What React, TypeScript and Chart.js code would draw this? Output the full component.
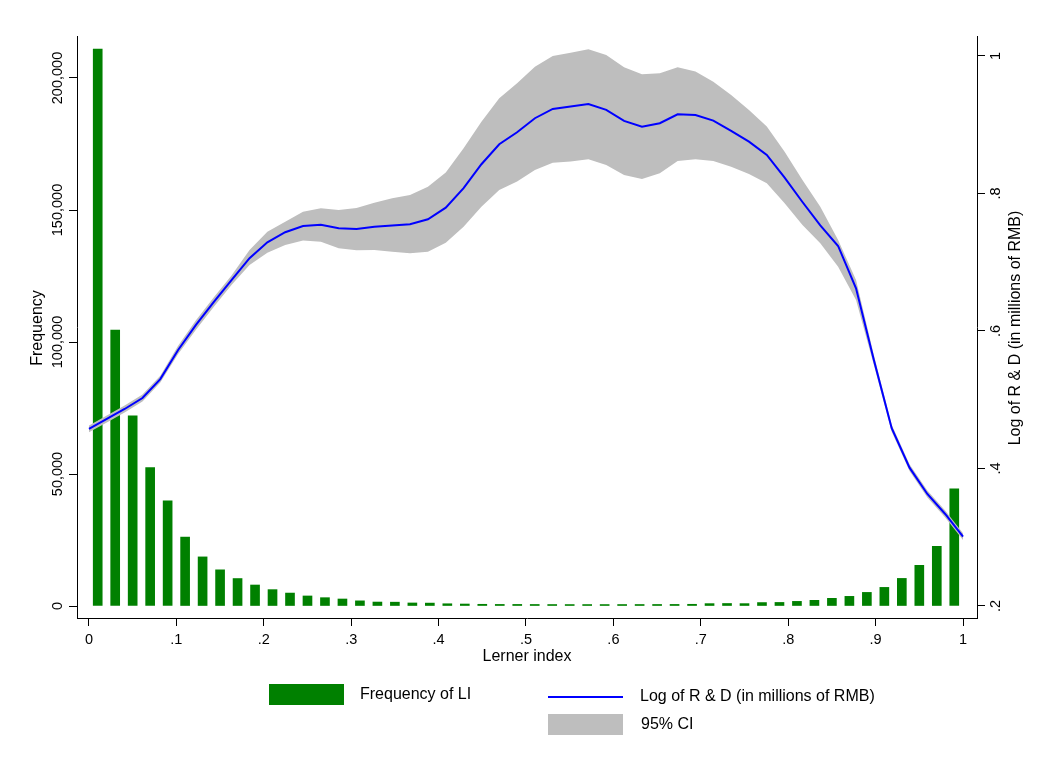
import React, { useEffect, useRef } from "react";
import { Chart, registerables } from "chart.js";

Chart.register(...registerables);

// ---------- data ----------
const binCenters = [
  0.01, 0.03, 0.05, 0.07, 0.09, 0.11, 0.13, 0.15, 0.17, 0.19,
  0.21, 0.23, 0.25, 0.27, 0.29, 0.31, 0.33, 0.35, 0.37, 0.39,
  0.41, 0.43, 0.45, 0.47, 0.49, 0.51, 0.53, 0.55, 0.57, 0.59,
  0.61, 0.63, 0.65, 0.67, 0.69, 0.71, 0.73, 0.75, 0.77, 0.79,
  0.81, 0.83, 0.85, 0.87, 0.89, 0.91, 0.93, 0.95, 0.97, 0.99,
];

const frequency = [
  211000, 104500, 72000, 52400, 39800, 26100, 18600, 13700, 10400, 7950,
  6200, 4900, 3800, 3150, 2650, 1950, 1500, 1450, 1150, 1100,
  850, 750, 650, 600, 600, 580, 560, 550, 550, 550,
  560, 570, 580, 600, 650, 900, 950, 900, 1300, 1350,
  1750, 2150, 2900, 3650, 5150, 7050, 10450, 15400, 22600, 44400,
];

const gridX = [
  0.0, 0.0204, 0.0408, 0.0612, 0.0816, 0.102, 0.1224, 0.1429, 0.1633, 0.1837,
  0.2041, 0.2245, 0.2449, 0.2653, 0.2857, 0.3061, 0.3265, 0.3469, 0.3673, 0.3878,
  0.4082, 0.4286, 0.449, 0.4694, 0.4898, 0.5102, 0.5306, 0.551, 0.5714, 0.5918,
  0.6122, 0.6327, 0.6531, 0.6735, 0.6939, 0.7143, 0.7347, 0.7551, 0.7755, 0.7959,
  0.8163, 0.8367, 0.8571, 0.8776, 0.898, 0.9184, 0.9388, 0.9592, 0.9796, 1.0,
];

const logRD = [
  0.4575, 0.472, 0.4865, 0.5025, 0.53, 0.5724, 0.6087, 0.6422, 0.6742, 0.7058,
  0.729, 0.7436, 0.7527, 0.7546, 0.7494, 0.7484, 0.7517, 0.7535, 0.7552, 0.7625,
  0.7793, 0.8076, 0.8425, 0.8716, 0.889, 0.9094, 0.9229, 0.9265, 0.9302, 0.9215,
  0.9055, 0.8972, 0.9021, 0.9152, 0.9142, 0.9059, 0.8911, 0.8753, 0.856, 0.823,
  0.7876, 0.7537, 0.7236, 0.6621, 0.5578, 0.4585, 0.4012, 0.3629, 0.3338, 0.3008,
];

const ciUpper = [
  0.4625, 0.477, 0.4915, 0.5075, 0.535, 0.5784, 0.6157, 0.6492, 0.6812, 0.7178,
  0.7444, 0.759, 0.7735, 0.7785, 0.776, 0.7789, 0.7866, 0.793, 0.7978, 0.8099,
  0.8303, 0.8658, 0.9044, 0.9385, 0.9603, 0.9844, 1.0, 1.0048, 1.0098, 1.0015,
  0.9836, 0.9734, 0.9748, 0.9836, 0.9772, 0.9626, 0.9433, 0.9215, 0.8972, 0.8608,
  0.8196, 0.7808, 0.7324, 0.6742, 0.5651, 0.4635, 0.4062, 0.3679, 0.3388, 0.3058,
];

const ciLower = [
  0.4525, 0.467, 0.4815, 0.4975, 0.525, 0.5664, 0.6017, 0.6352, 0.6672, 0.696,
  0.7139, 0.7251, 0.7314, 0.7299, 0.7203, 0.7174, 0.7178, 0.7153, 0.713, 0.7153,
  0.7284, 0.7517, 0.7808, 0.8051, 0.8172, 0.8342, 0.8448, 0.8463, 0.8497, 0.8415,
  0.8269, 0.8211, 0.8294, 0.8473, 0.8497, 0.8473, 0.839, 0.8284, 0.8148, 0.7857,
  0.7542, 0.7276, 0.6935, 0.6451, 0.5505, 0.4535, 0.3962, 0.3579, 0.3288, 0.2958,
];

const xTicks = [0, 0.1, 0.2, 0.3, 0.4, 0.5, 0.6, 0.7, 0.8, 0.9, 1];
const xTickLabels = ["0", ".1", ".2", ".3", ".4", ".5", ".6", ".7", ".8", ".9", "1"];
const leftTicks = [0, 50000, 100000, 150000, 200000];
const leftTickLabels = ["0", "50,000", "100,000", "150,000", "200,000"];
const rightTicks = [0.2, 0.4, 0.6, 0.8, 1];
const rightTickLabels = [".2", ".4", ".6", ".8", "1"];

const xTitle = "Lerner index";
const leftTitle = "Frequency";
const rightTitle = "Log of R & D (in millions of RMB)";
const legendBars = "Frequency of LI";
const legendLine = "Log of R & D (in millions of RMB)";
const legendCI = "95% CI";

// ---------- styles ----------
const FONT = '"Liberation Sans", Arial, Helvetica, sans-serif';
const GREEN = "#008000";
const BLUE = "#0000FF";
const GREY = "#BEBEBE";

const axisTextPlugin = {
  id: "axisText",
  afterDraw(chart: any) {
    const { ctx, scales, chartArea } = chart;
    ctx.save();
    ctx.fillStyle = "#000";
    ctx.textAlign = "center";
    ctx.textBaseline = "middle";

    ctx.font = `14.5px ${FONT}`;
    xTicks.forEach((v, i) => {
      ctx.fillText(xTickLabels[i], scales.x.getPixelForValue(v), 640);
    });
    leftTicks.forEach((v, i) => {
      const y = scales.yL.getPixelForValue(v);
      ctx.save();
      ctx.translate(58, y);
      ctx.rotate(-Math.PI / 2);
      ctx.fillText(leftTickLabels[i], 0, 0);
      ctx.restore();
    });
    rightTicks.forEach((v, i) => {
      const y = scales.yR.getPixelForValue(v);
      ctx.save();
      ctx.translate(996, y);
      ctx.rotate(-Math.PI / 2);
      ctx.fillText(rightTickLabels[i], 0, 0);
      ctx.restore();
    });

    ctx.font = `16px ${FONT}`;
    ctx.fillText(xTitle, (chartArea.left + chartArea.right) / 2, 657);
    ctx.save();
    ctx.translate(38, 328);
    ctx.rotate(-Math.PI / 2);
    ctx.fillText(leftTitle, 0, 0);
    ctx.restore();
    ctx.save();
    ctx.translate(1016, 328);
    ctx.rotate(-Math.PI / 2);
    ctx.fillText(rightTitle, 0, 0);
    ctx.restore();
    ctx.restore();
  },
};

function axisCommon(ticks: number[]) {
  return {
    afterBuildTicks: (s: any) => {
      s.ticks = ticks.map((v) => ({ value: v }));
    },
    ticks: { display: false },
    grid: {
      drawOnChartArea: false,
      drawTicks: true,
      tickLength: 8,
      tickWidth: 1,
      tickColor: "#000",
      offset: false,
    },
    border: { display: true, color: "#000", width: 1 },
  };
}

export default function App() {
  const canvasRef = useRef<HTMLCanvasElement | null>(null);

  useEffect(() => {
    document.body.style.margin = "0";
    document.body.style.overflow = "hidden";
    const canvas = canvasRef.current;
    if (!canvas) return;
    const chart = new Chart(canvas, {
      type: "bar",
      data: {
        datasets: [
          {
            type: "bar",
            label: legendBars,
            data: binCenters.map((x, i) => ({ x, y: frequency[i] })),
            backgroundColor: GREEN,
            borderWidth: 0,
            barThickness: 9,
            xAxisID: "x",
            yAxisID: "yL",
            order: 3,
          } as any,
          {
            type: "line",
            label: legendCI,
            data: gridX.map((x, i) => ({ x, y: ciUpper[i] })),
            borderWidth: 0,
            borderColor: GREY,
            backgroundColor: GREY,
            pointRadius: 0,
            tension: 0,
            fill: "+1",
            xAxisID: "x",
            yAxisID: "yR",
            order: 2,
          },
          {
            type: "line",
            label: "ci-lower",
            data: gridX.map((x, i) => ({ x, y: ciLower[i] })),
            borderWidth: 0,
            borderColor: GREY,
            backgroundColor: GREY,
            pointRadius: 0,
            tension: 0,
            fill: false,
            xAxisID: "x",
            yAxisID: "yR",
            order: 2,
          },
          {
            type: "line",
            label: legendLine,
            data: gridX.map((x, i) => ({ x, y: logRD[i] })),
            borderWidth: 2,
            borderColor: BLUE,
            backgroundColor: BLUE,
            pointRadius: 0,
            tension: 0,
            fill: false,
            xAxisID: "x",
            yAxisID: "yR",
            order: 1,
          },
        ],
      },
      options: {
        responsive: false,
        animation: false,
        devicePixelRatio: 1,
        layout: { padding: { top: 36, left: 0, right: 0, bottom: 0 } },
        plugins: {
          legend: { display: false },
          tooltip: { enabled: false },
          title: { display: false },
        },
        scales: {
          x: {
            type: "linear",
            position: "bottom",
            min: -0.0137,
            max: 1.016,
            offset: false,
            ...axisCommon(xTicks),
            afterFit: (s: any) => {
              s.height = 154;
            },
          },
          yL: {
            type: "linear",
            position: "left",
            min: -4545,
            max: 215909,
            ...axisCommon(leftTicks),
            afterFit: (s: any) => {
              s.width = 77;
            },
          },
          yR: {
            type: "linear",
            position: "right",
            min: 0.1825,
            max: 1.029,
            ...axisCommon(rightTicks),
            afterFit: (s: any) => {
              s.width = 64;
            },
          },
        } as any,
      },
      plugins: [axisTextPlugin],
    });
    return () => chart.destroy();
  }, []);

  const textStyle: React.CSSProperties = {
    position: "absolute",
    font: `16px ${FONT}`,
    color: "#000",
    whiteSpace: "nowrap",
    lineHeight: "18px",
  };

  return (
    <div
      style={{
        position: "absolute",
        left: 0,
        top: 0,
        width: 1041,
        height: 772,
        background: "#fff",
        overflow: "hidden",
      }}
    >
      <canvas ref={canvasRef} width={1041} height={772} style={{ display: "block", width: 1041, height: 772 }} />
      <div style={{ position: "absolute", left: 269, top: 684, width: 75, height: 21, background: GREEN }} />
      <div style={{ ...textStyle, left: 360, top: 685 }}>{legendBars}</div>
      <div style={{ position: "absolute", left: 548, top: 696, width: 75, height: 2, background: BLUE }} />
      <div style={{ ...textStyle, left: 640, top: 687 }}>{legendLine}</div>
      <div style={{ position: "absolute", left: 548, top: 714, width: 75, height: 21, background: GREY }} />
      <div style={{ ...textStyle, left: 641, top: 715 }}>{legendCI}</div>
    </div>
  );
}
